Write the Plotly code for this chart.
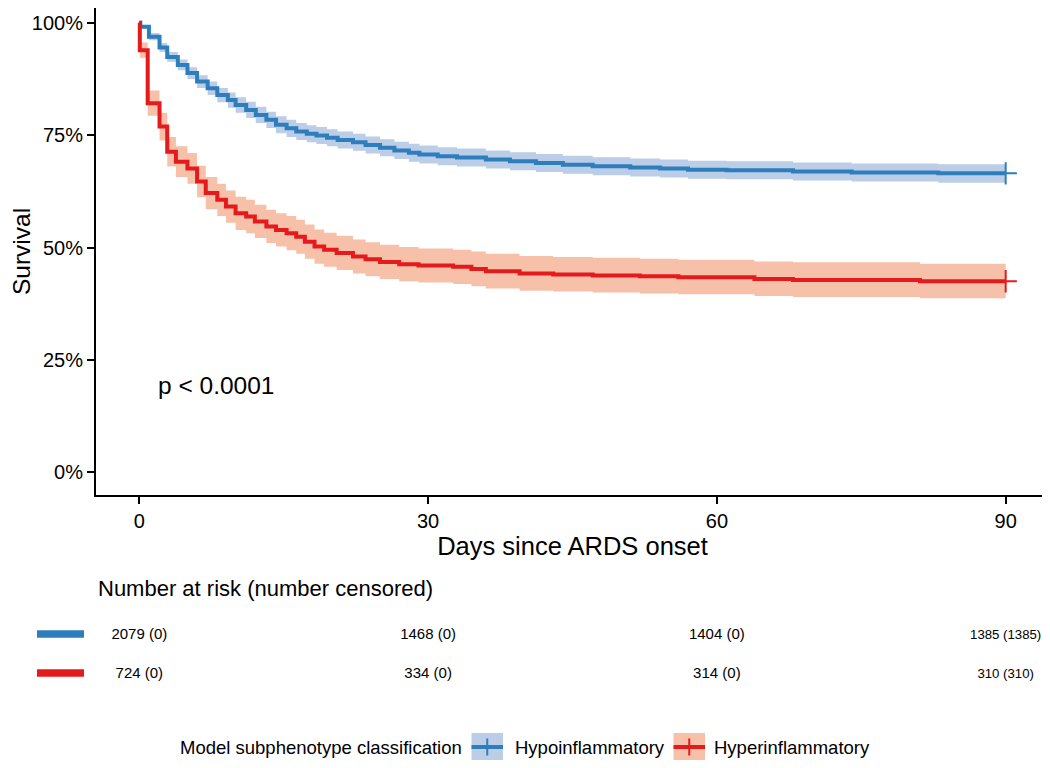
import plotly.graph_objects as go

# ---------------- data ----------------
groups = ["Hypoinflammatory", "Hyperinflammatory"]

hypo_time = [0, 0.1, 1.0, 2.1, 2.9, 4.0, 5.0, 6.0, 7.1, 8.1, 9.2, 10.0, 11.1, 12.1, 13.2, 14.2,
             15.3, 16.3, 17.4, 18.4, 19.5, 20.6, 22.2, 23.5, 25.0, 26.5, 28.0, 29.1, 31.0, 33.0,
             36.0, 38.5, 41.2, 44.0, 47.1, 51.0, 54.1, 57.0, 61.0, 67.9, 74.0, 83.0, 90.0]
hypo_surv = [1.0, 0.991, 0.969, 0.945, 0.924, 0.906, 0.888, 0.869, 0.854, 0.839, 0.828, 0.817,
             0.806, 0.795, 0.784, 0.773, 0.765, 0.758, 0.753, 0.749, 0.744, 0.739, 0.734, 0.728,
             0.722, 0.716, 0.711, 0.707, 0.703, 0.700, 0.696, 0.692, 0.688, 0.684, 0.681, 0.678,
             0.676, 0.673, 0.672, 0.669, 0.667, 0.665, 0.665]
hypo_upper = [1.0, 0.995, 0.977, 0.955, 0.935, 0.918, 0.901, 0.883, 0.869, 0.855, 0.845, 0.834,
              0.824, 0.813, 0.802, 0.792, 0.784, 0.777, 0.772, 0.768, 0.763, 0.758, 0.753, 0.747,
              0.741, 0.735, 0.731, 0.727, 0.723, 0.720, 0.716, 0.712, 0.708, 0.704, 0.701, 0.698,
              0.696, 0.693, 0.692, 0.689, 0.687, 0.685, 0.685]
hypo_lower = [1.0, 0.987, 0.961, 0.935, 0.913, 0.894, 0.875, 0.855, 0.839, 0.823, 0.811, 0.800,
              0.788, 0.777, 0.766, 0.754, 0.746, 0.739, 0.734, 0.730, 0.725, 0.720, 0.715, 0.709,
              0.703, 0.697, 0.691, 0.687, 0.683, 0.680, 0.676, 0.672, 0.668, 0.664, 0.661, 0.658,
              0.656, 0.653, 0.652, 0.649, 0.647, 0.644, 0.644]

hyper_time = [0, 0.05, 0.87, 2.1, 2.9, 3.8, 5.0, 6.0, 6.9, 8.1, 9.0, 10.0, 11.1, 12.0, 13.2, 14.2,
              15.3, 16.3, 17.2, 18.2, 19.2, 20.5, 22.2, 23.5, 25.0, 27.0, 29.0, 32.6, 34.5, 36.0,
              39.5, 43.0, 47.1, 52.0, 56.0, 63.9, 67.9, 81.1, 90.0]
hyper_surv = [1.0, 0.939, 0.821, 0.769, 0.713, 0.691, 0.676, 0.647, 0.621, 0.606, 0.591, 0.576,
              0.569, 0.558, 0.547, 0.539, 0.532, 0.524, 0.513, 0.502, 0.495, 0.488, 0.480, 0.474,
              0.468, 0.463, 0.460, 0.457, 0.452, 0.447, 0.442, 0.440, 0.438, 0.436, 0.434, 0.430,
              0.428, 0.425, 0.425]
hyper_upper = [1.0, 0.956, 0.849, 0.800, 0.746, 0.725, 0.710, 0.682, 0.657, 0.642, 0.627, 0.613,
               0.606, 0.595, 0.584, 0.576, 0.570, 0.562, 0.551, 0.540, 0.533, 0.526, 0.518, 0.512,
               0.506, 0.501, 0.498, 0.495, 0.491, 0.486, 0.481, 0.479, 0.477, 0.475, 0.473, 0.469,
               0.467, 0.464, 0.464]
hyper_lower = [1.0, 0.922, 0.793, 0.738, 0.680, 0.657, 0.642, 0.612, 0.585, 0.570, 0.555, 0.539,
               0.532, 0.521, 0.510, 0.502, 0.494, 0.486, 0.475, 0.464, 0.457, 0.450, 0.442, 0.436,
               0.430, 0.425, 0.422, 0.419, 0.414, 0.409, 0.404, 0.402, 0.400, 0.398, 0.396, 0.392,
               0.390, 0.387, 0.387]

risk_times = [0, 30, 60, 90]
hypo_at_risk = [2079, 1468, 1404, 1385]
hypo_censored = [0, 0, 0, 1385]
hyper_at_risk = [724, 334, 314, 310]
hyper_censored = [0, 0, 0, 310]

x_ticks = [0, 30, 60, 90]
y_ticks = [0, 0.25, 0.5, 0.75, 1.0]
y_tick_labels = ["0%", "25%", "50%", "75%", "100%"]
p_value_text = "p < 0.0001"

# ---------------- styling ----------------
OFF = 8                      # page offset of the plot div (body margin)
FW, FH = 1050 - OFF, 768 - 2 * OFF   # keep the page from scrolling
FONT = "Liberation Sans, Arial, Helvetica, sans-serif"
BLUE, RED = "#2E7EBC", "#E41A1C"
BLUE_FILL, RED_FILL = "#BCCDE8", "#F7C0A9"
RISK_FONT_SIZES = [15, 15, 15, 13.2]   # last column slightly smaller so it stays on the page


def px(x):
    """page pixel x -> paper fraction"""
    return (x - OFF) / FW


def py(y):
    """page pixel y -> paper fraction"""
    return 1 - (y - OFF) / FH


fig = go.Figure()

series = [
    (groups[0], hypo_time, hypo_surv, hypo_lower, hypo_upper, BLUE, BLUE_FILL),
    (groups[1], hyper_time, hyper_surv, hyper_lower, hyper_upper, RED, RED_FILL),
]

# confidence bands
for name, t, s, lo, hi, c, fc in series:
    fig.add_trace(go.Scatter(x=t, y=lo, mode="lines", line=dict(width=0, shape="hv"),
                             showlegend=False, hoverinfo="skip"))
    fig.add_trace(go.Scatter(x=t, y=hi, mode="lines", line=dict(width=0, shape="hv"),
                             fill="tonexty", fillcolor=fc, showlegend=False, hoverinfo="skip"))

# survival curves + censor marks
for name, t, s, lo, hi, c, fc in series:
    fig.add_trace(go.Scatter(x=t, y=s, mode="lines", name=name,
                             line=dict(color=c, width=4, shape="hv"), showlegend=False))
    fig.add_trace(go.Scatter(x=[t[-1]], y=[s[-1]], mode="markers", showlegend=False,
                             marker=dict(symbol="cross-thin", size=16,
                                         line=dict(width=2, color=c))))

# risk table
for g, n, cz in [(groups[0], hypo_at_risk, hypo_censored), (groups[1], hyper_at_risk, hyper_censored)]:
    fig.add_trace(go.Scatter(x=risk_times, y=[g] * len(risk_times), mode="text",
                             text=[f"{a} ({b})" for a, b in zip(n, cz)],
                             textposition="middle center", cliponaxis=False,
                             textfont=dict(family=FONT, size=RISK_FONT_SIZES, color="black"),
                             xaxis="x2", yaxis="y2", showlegend=False, hoverinfo="skip"))

axis_common = dict(showgrid=False, zeroline=False, showline=True, linecolor="black", linewidth=2,
                   ticks="outside", ticklen=7, tickwidth=2, tickcolor="black",
                   tickfont=dict(family=FONT, size=20, color="black"), automargin=False)

fig.update_layout(
    width=FW, height=FH, template="none",
    margin=dict(l=0, r=0, t=0, b=0),
    paper_bgcolor="white", plot_bgcolor="white",
    showlegend=False,
    xaxis=dict(domain=[px(96), px(1049)], range=[-4.5, 94.5], tickvals=x_ticks, anchor="y",
               title=dict(text="Days since ARDS onset", standoff=2,
                          font=dict(family=FONT, size=25.5, color="black")),
               **axis_common),
    yaxis=dict(domain=[py(495), py(OFF)], range=[-0.0504, 1.0327], tickvals=y_ticks,
               ticktext=y_tick_labels, anchor="x",
               title=dict(text="Survival", standoff=14,
                          font=dict(family=FONT, size=24.5, color="black")),
               **axis_common),
    xaxis2=dict(domain=[px(96), px(1049)], range=[-4.5, 94.5], anchor="y2", visible=False),
    yaxis2=dict(domain=[py(694), py(616)], type="category",
                categoryorder="array", categoryarray=[groups[1], groups[0]],
                range=[-0.5, 1.5], anchor="x2", visible=False),
)

LEG_Y = 747
annotations = [
    dict(text=p_value_text, x=1.75, y=0.194, xref="x", yref="y", xanchor="left", yanchor="middle",
         showarrow=False, font=dict(family=FONT, size=24.5, color="black")),
    dict(text="Number at risk (number censored)", x=px(96), y=py(588), xref="paper", yref="paper",
         xanchor="left", yanchor="middle", showarrow=False,
         font=dict(family=FONT, size=22, color="black")),
    dict(text="Model subphenotype classification", x=px(178), y=py(LEG_Y), xref="paper", yref="paper",
         xanchor="left", yanchor="middle", showarrow=False,
         font=dict(family=FONT, size=18.5, color="black")),
]

shapes = []
# colour keys of the risk table rows
for yy, c in [(634, BLUE), (673, RED)]:
    shapes.append(dict(type="line", xref="paper", yref="paper", x0=px(37), x1=px(84),
                       y0=py(yy), y1=py(yy), line=dict(color=c, width=7.5)))

# manual legend
for (bx, tx), (name, t, s, lo, hi, c, fc) in zip([(471.5, 513), (673.5, 712)], series):
    shapes.append(dict(type="rect", xref="paper", yref="paper", x0=px(bx), x1=px(bx + 31.5),
                       y0=py(LEG_Y + 13.5), y1=py(LEG_Y - 14), fillcolor=fc, line=dict(width=0)))
    shapes.append(dict(type="line", xref="paper", yref="paper", x0=px(bx), x1=px(bx + 31.5),
                       y0=py(LEG_Y), y1=py(LEG_Y), line=dict(color=c, width=4)))
    shapes.append(dict(type="line", xref="paper", yref="paper", x0=px(bx + 15.75), x1=px(bx + 15.75),
                       y0=py(LEG_Y - 8.5), y1=py(LEG_Y + 8.5), line=dict(color=c, width=2)))
    annotations.append(dict(text=name, x=px(tx), y=py(LEG_Y), xref="paper", yref="paper",
                            xanchor="left", yanchor="middle", showarrow=False,
                            font=dict(family=FONT, size=18.5, color="black")))

fig.update_layout(annotations=annotations, shapes=shapes)

fig.write_html("out.html")
